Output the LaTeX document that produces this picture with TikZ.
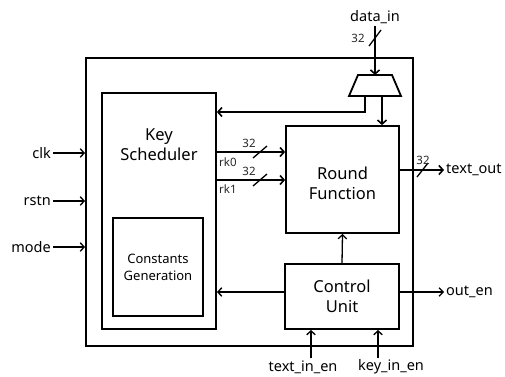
\documentclass[tikz,border=0pt]{standalone}
\usepackage{fontspec}
\setmainfont{Noto Sans}
\usetikzlibrary{arrows.meta}
\begin{document}
\begin{tikzpicture}[x=1pt,y=-1pt,
  box/.style={draw,line width=1.8pt,inner sep=0pt},
  title/.style={align=center,font=\fontsize{16.5}{20}\selectfont,inner sep=0pt},
  bus/.style={line width=1.8pt,-{Straight Barb[length=4pt,width=9pt,line width=1.6pt]}},
  ctl/.style={line width=1.3pt,-{Straight Barb[length=4pt,width=8.5pt,line width=1.3pt]}},
  pin/.style={font=\fontsize{14.5}{16}\selectfont,inner sep=2pt},
  wlab/.style={font=\fontsize{11.5}{13}\selectfont,inner sep=0pt,text=black!85},
  slash/.style={line width=1.3pt}]
\useasboundingbox (0,0) rectangle (505,376);

% blocks
\node[box,minimum width=327pt,minimum height=288pt] (top) at (249.5,202) {};
\node[box,minimum width=114pt,minimum height=236pt] (ks) at (159,211) {};
\node[title] (kst) at (159,145) {Key\\Scheduler};
\node[box,minimum width=90pt,minimum height=98pt,align=center,
      font=\fontsize{13}{17}\selectfont] (cg) at (158,267) {Constants\\Generation};
\node[box,minimum width=113pt,minimum height=107pt] (rf) at (342.5,179.5) {};
\node[title] (rft) at (342.5,183) {Round\\Function};
\node[box,minimum width=114pt,minimum height=65pt,title] (cu) at (342,296.5) {Control\\Unit};

% multiplexer
\coordinate (muxn) at (375,75);
\coordinate (muxs) at (375,96);
\draw[line width=1.8pt,line join=miter] (358,75) -- (392,75) -- (401,96) -- (349,96) -- cycle;

% data input and multiplexer outputs
\node[pin] (din) at (375,17) {data\_in};
\draw[bus] (din.south) -- (muxn);
\draw[slash] (369,46) -- (381,30);
\node[wlab] (w0) at (358,38) {32};
\draw[bus] ([xshift=7pt]muxs) -- ([xshift=7pt]muxs |- rf.north);
\draw[bus] ([xshift=-10pt]muxs) -- ++(0,16) coordinate (mk) -- (mk -| ks.east);

% round keys
\draw[bus] (ks.east |- 0,152) -- (rf.west |- 0,152);
\draw[slash] (253,158) -- (267,146);
\node[wlab] (w1) at (249,143) {32};
\node[wlab,anchor=west] (rk0) at (219,162) {rk0};
\draw[bus] (ks.east |- 0,180) -- (rf.west |- 0,180);
\draw[slash] (253,186) -- (267,174);
\node[wlab] (w2) at (249,171) {32};
\node[wlab,anchor=west] (rk1) at (219,189) {rk1};

% output data
\node[pin,anchor=west] (tout) at (444,170) {text\_out};
\draw[bus] (rf.east |- tout) -- (tout.west);
\draw[slash] (417,177) -- (428,163);
\node[wlab] (w3) at (423,160) {32};

% left side inputs
\node[pin,anchor=east] (clk) at (53,153) {clk};
\node[pin,anchor=east] (rstn) at (53,201) {rstn};
\node[pin,anchor=east] (mode) at (53,247) {mode};
\foreach \p in {clk,rstn,mode}
  \draw[ctl] (\p.east) -- (\p.east -| top.west);

% control paths
\draw[ctl] (cu.north) -- (rf.south);
\draw[ctl] (cu.west |- 0,292) -- (ks.east |- 0,292);
\node[pin,anchor=west] (oen) at (444,292) {out\_en};
\draw[ctl] (cu.east |- oen) -- (oen.west);
\node[pin] (tie) at (303,367) {text\_in\_en};
\draw[ctl] ([xshift=8pt]tie.north) -- ([xshift=8pt]tie.north |- cu.south);
\node[pin] (kie) at (391,367) {key\_in\_en};
\draw[ctl] ([xshift=-13pt]kie.north) -- ([xshift=-13pt]kie.north |- cu.south);
\end{tikzpicture}
\end{document}
